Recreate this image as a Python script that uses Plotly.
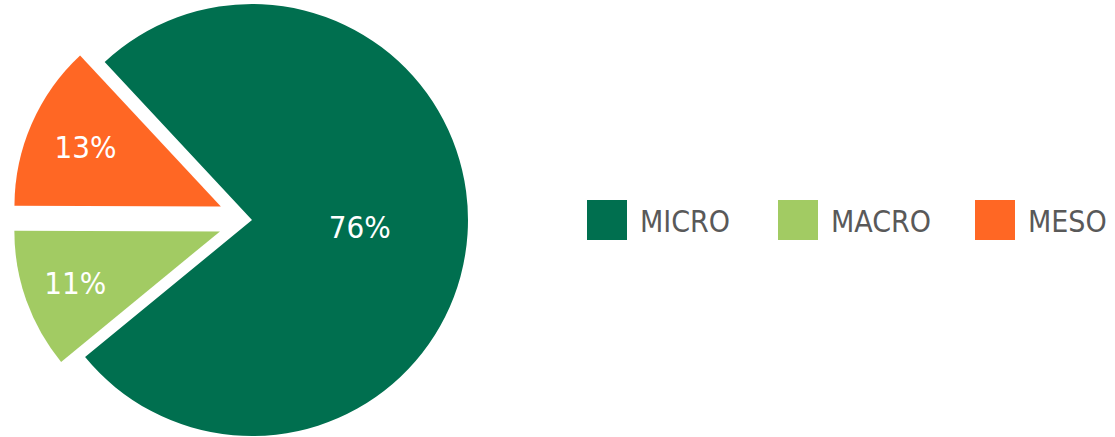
import numpy as np
import plotly.graph_objects as go

# data
labels = ["MICRO", "MACRO", "MESO"]
values = [76, 11, 13]
colors = ["#006F4F", "#A2CB63", "#FF6724"]
pulled = [False, True, True]

W, H = 1115, 437
FONT = "Tahoma, 'DejaVu Sans Condensed', 'DejaVu Sans', sans-serif"

# pie geometry in px
cx, cy, R = 252, 220, 216
rotation = -43
pull_px = 34

fracs = np.array(values) / np.sum(values)
starts = rotation + 360 * np.concatenate([[0], np.cumsum(fracs)[:-1]])
mids = np.radians(starts + 180 * fracs)

fig = go.Figure()
for i, lab in enumerate(labels):
    # one trace per visible slice so pulled slices keep full size
    dx = pull_px * np.sin(mids[i]) if pulled[i] else 0
    dy = -pull_px * np.cos(mids[i]) if pulled[i] else 0
    px_, py_ = cx + dx, cy + dy
    r = min(R, px_, py_, H - py_)
    slice_colors = ["rgba(0,0,0,0)"] * len(labels)
    slice_colors[i] = colors[i]
    templates = [""] * len(labels)
    templates[i] = "%{percent:.0%}"
    fig.add_trace(
        go.Pie(
            labels=labels,
            values=values,
            sort=False,
            direction="clockwise",
            rotation=rotation,
            marker=dict(colors=slice_colors, line=dict(width=0)),
            texttemplate=templates,
            textposition="inside",
            insidetextorientation="horizontal",
            textfont=dict(size=31, color="white", family=FONT),
            domain=dict(
                x=[max(0, (px_ - r) / W), min(1, (px_ + r) / W)],
                y=[max(0, 1 - (py_ + r) / H), min(1, 1 - (py_ - r) / H)],
            ),
            hoverinfo="label+percent",
            showlegend=False,
        )
    )

# legend with big square swatches
legend_x = [587, 778, 975]
for lab, col, lx in zip(labels, colors, legend_x):
    fig.add_shape(
        type="rect",
        xref="paper",
        yref="paper",
        x0=lx / W,
        x1=(lx + 40) / W,
        y0=1 - 240 / H,
        y1=1 - 200 / H,
        fillcolor=col,
        line=dict(width=0),
    )
    fig.add_annotation(
        x=(lx + 51) / W,
        y=1 - 221 / H,
        xref="paper",
        yref="paper",
        xanchor="left",
        yanchor="middle",
        text=lab,
        showarrow=False,
        font=dict(size=30, color="#595959", family=FONT),
    )

fig.update_layout(
    width=W,
    height=H,
    margin=dict(l=0, r=0, t=0, b=0),
    paper_bgcolor="white",
    plot_bgcolor="white",
)

# page body has a default 8px margin, drop it so the chart fills the window
fig.write_html(
    "out.html",
    config={"displayModeBar": False},
    post_script="document.body.style.margin = '0px';",
)
